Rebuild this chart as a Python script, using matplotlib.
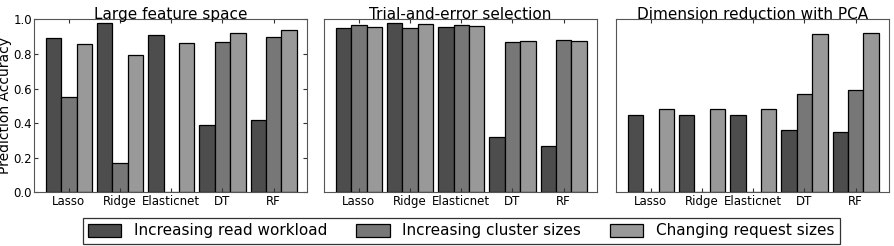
import numpy as np
import matplotlib
matplotlib.use("Agg")
import matplotlib.pyplot as plt

# ----------------------------------------------------------------------------
# data
models = ["Lasso", "Ridge", "Elasticnet", "DT", "RF"]
series_names = ["Increasing read workload", "Increasing cluster sizes",
                "Changing request sizes"]
panel_titles = ["Large feature space", "Trial-and-error selection",
                "Dimension reduction with PCA"]

large_read = [0.894, 0.977, 0.911, 0.391, 0.418]
large_cluster = [0.553, 0.168, 0.0, 0.869, 0.896]
large_request = [0.859, 0.792, 0.861, 0.921, 0.936]

trial_read = [0.948, 0.977, 0.956, 0.318, 0.268]
trial_cluster = [0.965, 0.952, 0.969, 0.867, 0.879]
trial_request = [0.956, 0.971, 0.963, 0.873, 0.877]

pca_read = [0.447, 0.447, 0.447, 0.360, 0.347]
pca_cluster = [0.0, 0.0, 0.0, 0.566, 0.590]
pca_request = [0.484, 0.484, 0.484, 0.913, 0.923]

yticks = [0.0, 0.2, 0.4, 0.6, 0.8, 1.0]
colors = ["#4d4d4d", "#777777", "#999999"]

panels = [
    [large_read, large_cluster, large_request],
    [trial_read, trial_cluster, trial_request],
    [pca_read, pca_cluster, pca_request],
]
# ----------------------------------------------------------------------------

fig = plt.figure(figsize=(8.94, 2.46), dpi=100)
lefts = [34 / 894, 324 / 894, 616 / 894]
width_ax = 273 / 894
bottom = 1 - 192.3 / 246
height = (192.3 - 19.3) / 246

ind = np.arange(len(models))
w = 0.3
handles = []
for k, (series, title) in enumerate(zip(panels, panel_titles)):
    ax = fig.add_axes([lefts[k], bottom, width_ax, height])
    for j, vals in enumerate(series):
        bars = ax.bar(ind + j * w, vals, w, align="edge", color=colors[j],
                      edgecolor="black", linewidth=0.9)
        if k == 0:
            handles.append(bars)
    ax.set_xlim(-0.23, 5.1)
    ax.set_ylim(0, 1.0)
    ax.set_xticks(ind + 1.5 * w)
    ax.set_xticklabels(models, fontsize=8.5)
    ax.set_title(title, fontsize=11, pad=0)
    ax.tick_params(axis="x", direction="in", top=True, length=3, pad=2,
                   color="#333333")
    for s in ax.spines.values():
        s.set_color("#555555")
    if k == 0:
        ax.set_yticks(yticks)
        ax.set_yticklabels(["%.1f" % v for v in yticks], fontsize=8.5)
        ax.tick_params(axis="y", direction="in", right=True, length=3,
                       pad=1.5, color="#333333")
        ax.set_ylabel("Prediction Accuracy", fontsize=10)
        ax.yaxis.set_label_coords(-0.079, 0.5)
    else:
        ax.set_yticks([])

leg = fig.legend(handles, series_names, loc="center",
                 bbox_to_anchor=(461 / 894, 1 - 231 / 246), ncol=3,
                 fontsize=11, frameon=True, fancybox=False,
                 handlelength=2.2, handleheight=0.9, columnspacing=1.9,
                 borderpad=0.35)
leg.get_frame().set_edgecolor("black")
leg.get_frame().set_linewidth(0.9)

fig.savefig("out.png", dpi=100)
